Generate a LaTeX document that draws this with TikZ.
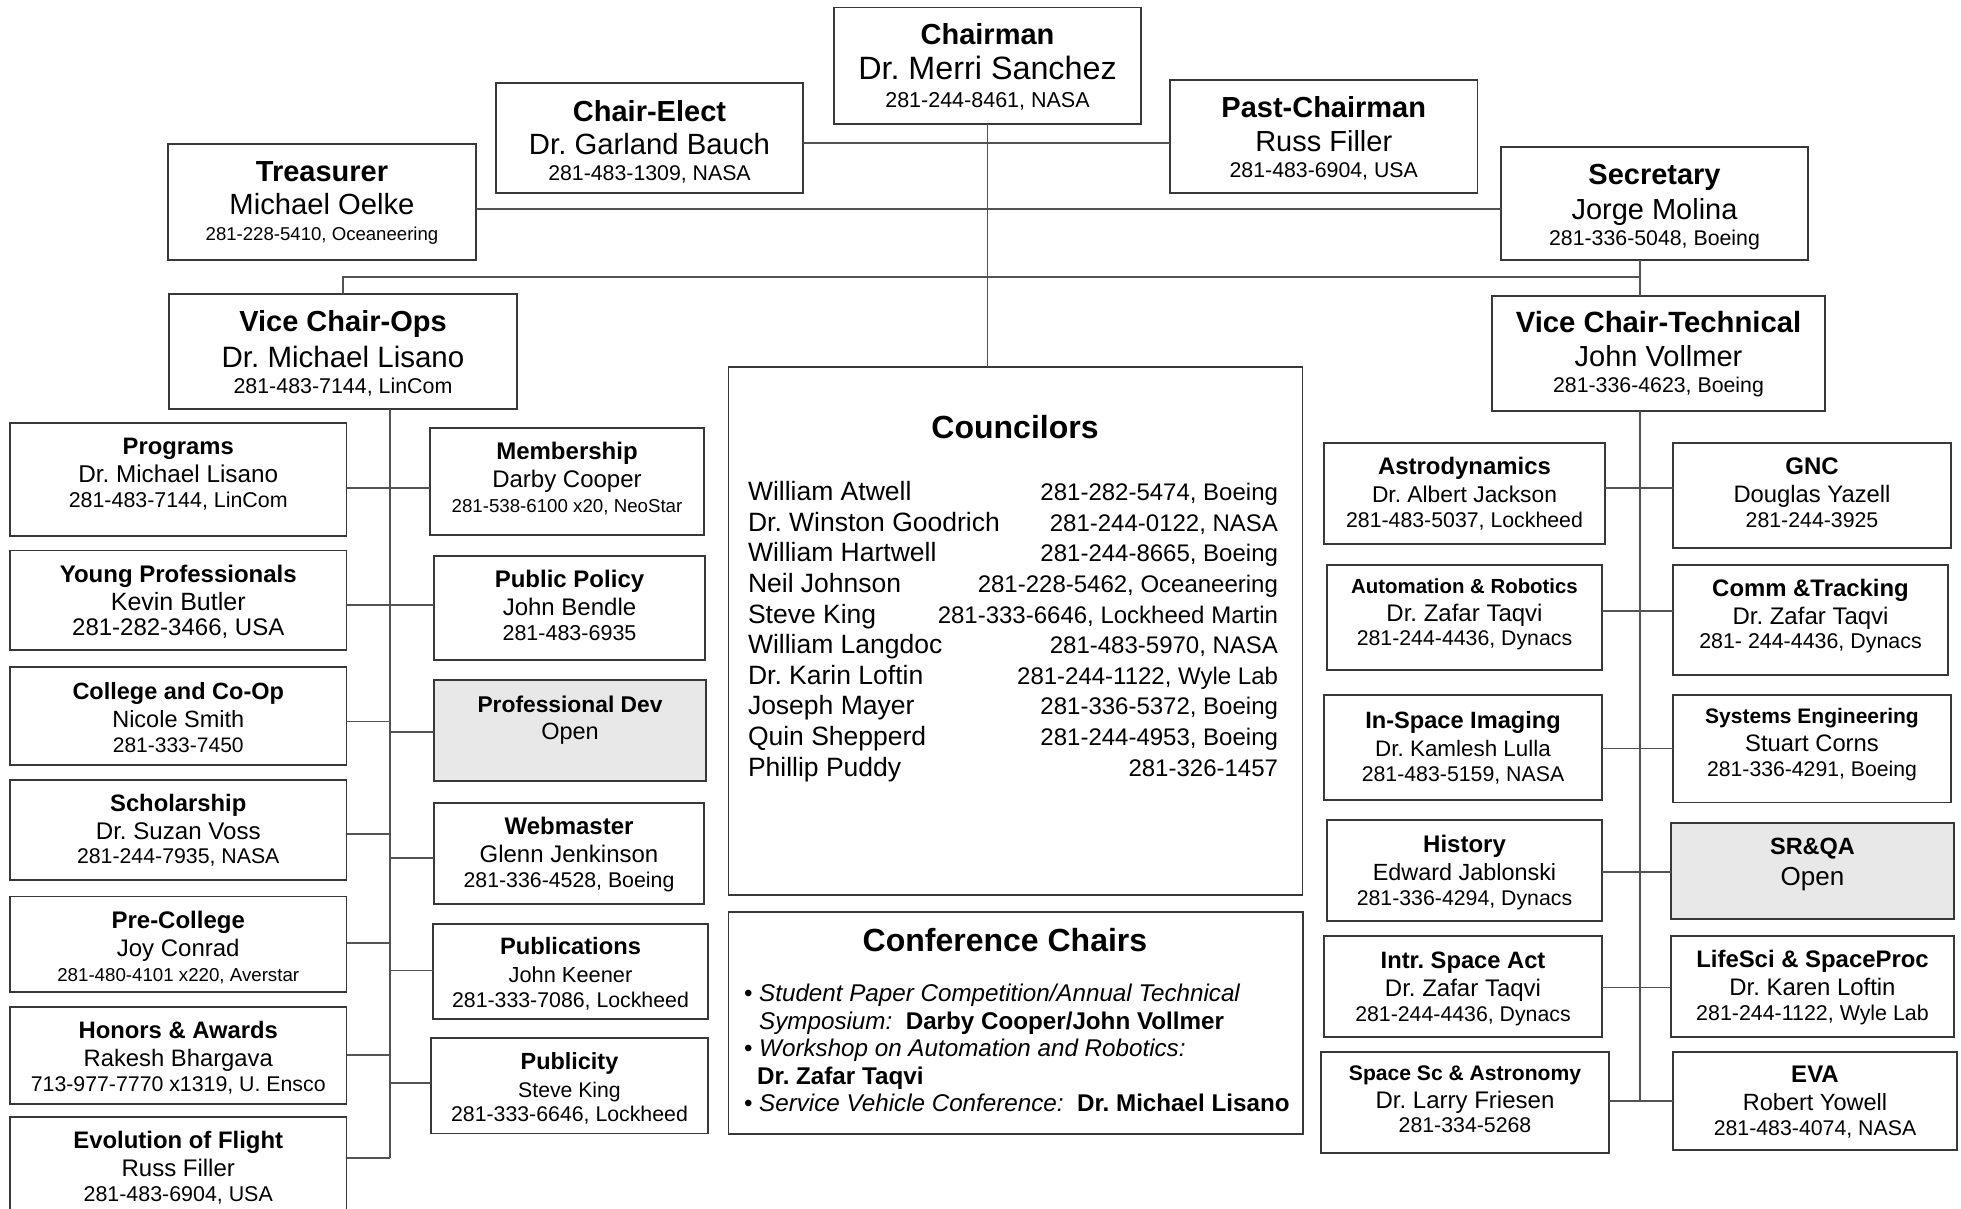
\documentclass[tikz,border=0pt]{standalone}
\usepackage{fontspec}
\setmainfont{Liberation Sans}
\newcommand\BS{24.5}
\newcommand\OT[2]{{\bfseries\fontsize{#1}{\BS}\selectfont\rule{0pt}{25pt}#2}}
\newcommand\ON[2]{{\fontsize{#1}{\BS}\selectfont #2}}
\newcommand\CN[2]{\makebox[530pt]{\rlap{\fontsize{26.5}{30.6}\selectfont #1}\hfill #2}}
\newcommand\CB[1]{{\bfseries\fontsize{24.2}{25}\selectfont #1}}
\newcommand\orgbox[8][]{%
  \node[obx,#1,minimum width={(#5-#3)*1pt},minimum height={(#6-#4)*1pt}] (#2) at ({(#3+#5)/2},{(#4+#6)/2}) {};
  \node[otx,anchor=north] (#2-t) at ({(#3+#5)/2},{#7-25}) {#8};}
\begin{document}
\frenchspacing
\begin{tikzpicture}[x=1pt,y=-1pt,
  obx/.style={rectangle,draw=black!78,line width=1.8pt,fill=white,inner sep=0pt,outer sep=0pt},
  opn/.style={fill=black!9},
  otx/.style={inner sep=0pt,outer sep=0pt,align=center,font=\fontsize{21}{\BS}\selectfont},
  conn/.style={draw=black!68,line width=1.4pt}]
\path[fill=white,use as bounding box] (0,0) rectangle (1961,1209);

% ---------- top level ----------
\renewcommand\BS{26}
\orgbox{chair}{834}{7.5}{1141}{124}{44.4}{\OT{29}{Chairman}\\[9.5pt]\ON{32.3}{Dr. Merri Sanchez}\\[1.5pt]\ON{21.5}{281-244-8461, NASA}}
\orgbox{celect}{496}{83}{803}{193}{121.4}{\OT{29}{Chair-Elect}\\[7.5pt]\ON{29.3}{Dr. Garland Bauch}\\\ON{21.3}{281-483-1309, NASA}}
\orgbox{past}{1170}{80}{1477.5}{193}{117.9}{\OT{29}{Past-Chairman}\\[7.5pt]\ON{29}{Russ Filler}\\\ON{21.3}{281-483-6904, USA}}
\orgbox{treas}{168}{144}{476}{260}{181.4}{\OT{29}{Treasurer}\\[7.5pt]\ON{29.2}{Michael Oelke}\\\ON{18.6}{281-228-5410, Oceaneering}}
\orgbox{sec}{1501}{147}{1808}{260}{184.4}{\OT{29}{Secretary}\\[7.5pt]\ON{29}{Jorge Molina}\\\ON{21.3}{281-336-5048, Boeing}}
\orgbox{vco}{169}{294}{517}{409}{331.4}{\OT{29}{Vice Chair-Ops}\\[7.5pt]\ON{29.5}{Dr. Michael Lisano}\\\ON{21.4}{281-483-7144, LinCom}}
\orgbox{vct}{1492}{296}{1825}{411}{332.9}{\OT{29.3}{Vice Chair-Technical}\\[7.5pt]\ON{29}{John Vollmer}\\\ON{21.3}{281-336-4623, Boeing}}

% ---------- councilors / conference ----------
\node[obx,minimum width=574pt,minimum height=528pt] (couns) at (1015.5,631) {};
\node[inner sep=0pt,font=\bfseries\fontsize{32}{38}\selectfont] (couns-t) at (1015,426.7) {Councilors};
\node[inner sep=0pt,font=\fontsize{24}{30.6}\selectfont] (couns-l) at (1013,632.3) {%
\begin{tabular}{@{}l@{}}
\CN{William Atwell}{281-282-5474, Boeing}\\
\CN{Dr. Winston Goodrich}{281-244-0122, NASA}\\
\CN{William Hartwell}{281-244-8665, Boeing}\\
\CN{Neil Johnson}{281-228-5462, Oceaneering}\\
\CN{Steve King}{281-333-6646, Lockheed Martin}\\
\CN{William Langdoc}{281-483-5970, NASA}\\
\CN{Dr. Karin Loftin}{281-244-1122, Wyle Lab}\\
\CN{Joseph Mayer}{281-336-5372, Boeing}\\
\CN{Quin Shepperd}{281-244-4953, Boeing}\\
\CN{Phillip Puddy}{281-326-1457}
\end{tabular}};

\node[obx,minimum width=574.5pt,minimum height=222pt] (conf) at (1015.75,1023) {};
\node[inner sep=0pt,font=\bfseries\fontsize{32}{38}\selectfont] (conf-t) at (1005,940) {Conference Chairs};
\begin{scope}[every node/.style={inner sep=0pt,anchor=base west,font=\fontsize{24.2}{25}\selectfont}]
\node (cf1) at (744,1001.6) {\makebox[15pt][l]{•}\textit{Student Paper Competition/Annual Technical}};
\node (cf2) at (744,1029.1) {\hspace*{15pt}\textit{Symposium:}\ \ \CB{Darby Cooper/John Vollmer}};
\node (cf3) at (744,1056.6) {\makebox[15pt][l]{•}\textit{Workshop on Automation and Robotics:}};
\node (cf4) at (744,1084.1) {\hspace*{13pt}\CB{Dr. Zafar Taqvi}};
\node (cf5) at (744,1111.6) {\makebox[15pt][l]{•}\textit{Service Vehicle Conference:}\ \ \CB{Dr. Michael Lisano}};
\end{scope}

% ---------- Vice Chair-Ops branch ----------
\renewcommand\BS{24.5}
\orgbox{prog}{10}{423}{346.5}{536}{454.6}{\OT{23.8}{Programs}\\[3.5pt]\ON{24.3}{Dr. Michael Lisano}\\\ON{21.4}{281-483-7144, LinCom}}
\orgbox{yprof}{10}{550.5}{346.5}{650}{582.6}{\OT{24}{Young Professionals}\\[3.5pt]\ON{25}{Kevin Butler}\\\ON{24}{281-282-3466, USA}}
\orgbox{college}{10}{667}{346.5}{765}{699.5}{\OT{23.5}{College and Co-Op}\\[3.5pt]\ON{23.5}{Nicole Smith}\\\ON{21}{281-333-7450}}
\orgbox{schol}{10}{780}{346.5}{880}{811}{\OT{23.8}{Scholarship}\\[3.5pt]\ON{24.1}{Dr. Suzan Voss}\\\ON{21.3}{281-244-7935, NASA}}
\orgbox{precol}{10}{896.5}{346.5}{992}{928.6}{\OT{24}{Pre-College}\\[3.5pt]\ON{24}{Joy Conrad}\\\ON{18.7}{281-480-4101 x220, Averstar}}
\orgbox{honors}{10}{1007}{346.5}{1104}{1038.5}{\OT{23.8}{Honors \& Awards}\\[3.5pt]\ON{23.8}{Rakesh Bhargava}\\\ON{21.3}{713-977-7770 x1319, U. Ensco}}
\orgbox{evol}{10}{1117}{346.5}{1216}{1148.6}{\OT{23.9}{Evolution of Flight}\\[3.5pt]\ON{24}{Russ Filler}\\\ON{21.4}{281-483-6904, USA}}

\orgbox{memb}{430}{428}{704}{535}{459.6}{\OT{24}{Membership}\\[3.5pt]\ON{24}{Darby Cooper}\\\ON{18.7}{281-538-6100 x20, NeoStar}}
\orgbox{ppol}{434}{556}{705}{660}{587.6}{\OT{24}{Public Policy}\\[3.5pt]\ON{24}{John Bendle}\\\ON{21.5}{281-483-6935}}
\orgbox[opn]{profdev}{434}{680}{706}{781}{712.2}{\OT{22.8}{Professional Dev}\\[2.5pt]\ON{23.5}{Open}}
\orgbox{webm}{434}{803}{704}{904}{834.6}{\OT{24}{Webmaster}\\[3.5pt]\ON{24}{Glenn Jenkinson}\\\ON{21.3}{281-336-4528, Boeing}}
\orgbox{publ}{433}{924}{708}{1019}{954.5}{\OT{23.7}{Publications}\\[3.5pt]\ON{21.8}{John Keener}\\\ON{21.3}{281-333-7086, Lockheed}}
\orgbox{pubcity}{431}{1038}{708}{1133.5}{1069.4}{\OT{23.4}{Publicity}\\[3.5pt]\ON{21.2}{Steve King}\\\ON{21.3}{281-333-6646, Lockheed}}

% ---------- Vice Chair-Technical branch ----------
\orgbox{astro}{1324}{443}{1605}{544}{474.6}{\OT{23.9}{Astrodynamics}\\[3.5pt]\ON{22.8}{Dr. Albert Jackson}\\\ON{21.3}{281-483-5037, Lockheed}}
\orgbox{autom}{1327}{565}{1602}{670}{593.3}{\OT{20.4}{Automation \& Robotics}\\[3.5pt]\ON{24}{Dr. Zafar Taqvi}\\\ON{21.3}{281-244-4436, Dynacs}}
\orgbox{insp}{1324}{695}{1602}{800}{728.5}{\OT{23.6}{In-Space Imaging}\\[3.5pt]\ON{22.4}{Dr. Kamlesh Lulla}\\\ON{21.3}{281-483-5159, NASA}}
\orgbox{hist}{1327}{820}{1602}{921}{852.5}{\OT{24}{History}\\[3.5pt]\ON{23.4}{Edward Jablonski}\\\ON{21.3}{281-336-4294, Dynacs}}
\orgbox{intr}{1324}{936}{1602}{1037}{968.5}{\OT{23.7}{Intr. Space Act}\\[3.5pt]\ON{24}{Dr. Zafar Taqvi}\\\ON{21.3}{281-244-4436, Dynacs}}
\orgbox{spsc}{1321}{1052}{1609}{1153}{1080}{\OT{21.1}{Space Sc \& Astronomy}\\[3.5pt]\ON{24}{Dr. Larry Friesen}\\\ON{21.3}{281-334-5268}}

\orgbox{gnc}{1673}{443}{1951}{548}{474.6}{\OT{24}{GNC}\\[3.5pt]\ON{23.8}{Douglas Yazell}\\\ON{21.3}{281-244-3925}}
\orgbox{comm}{1673}{565}{1948}{675}{596.1}{\OT{23.9}{Comm \&Tracking}\\[3.5pt]\ON{24}{Dr. Zafar Taqvi}\\\ON{21.4}{281- 244-4436, Dynacs}}
\orgbox{syseng}{1673}{695}{1951}{802.5}{723.5}{\OT{21}{Systems Engineering}\\[3.5pt]\ON{23.8}{Stuart Corns}\\\ON{21.2}{281-336-4291, Boeing}}
\orgbox[opn]{srqa}{1671}{823}{1954}{919}{854.4}{\OT{23.5}{SR\&QA}\\[6.5pt]\ON{26}{Open}}
\orgbox{lifesci}{1671}{936}{1954}{1037}{967.5}{\OT{23.9}{LifeSci \& SpaceProc}\\[3.5pt]\ON{23.9}{Dr. Karen Loftin}\\\ON{21.4}{281-244-1122, Wyle Lab}}
\orgbox{eva}{1673}{1052}{1957}{1150}{1082.6}{\OT{24}{EVA}\\[3.5pt]\ON{23.5}{Robert Yowell}\\\ON{21.3}{281-483-4074, NASA}}

% ---------- connectors ----------
\coordinate (ls) at (390,0);
\coordinate (rs) at (1640,277);
\coordinate (hA) at (0,143);
\coordinate (hB) at (0,209);
\draw[conn] (chair.south) -- (chair.south |- couns.north);
\draw[conn] (celect.east |- hA) -- (past.west |- hA);
\draw[conn] (treas.east |- hB) -- (sec.west |- hB);
\draw[conn] (vco.north) |- (rs);
\draw[conn] (rs |- sec.south) -- (rs |- vct.north);
\draw[conn] (rs |- vct.south) -- (rs |- 0,1101);
\draw[conn] (ls |- vco.south) -- (ls |- 0,1158);

\draw[conn] (prog.east |- 0,488) -- (memb.west |- 0,488);
\draw[conn] (yprof.east |- 0,605) -- (ppol.west |- 0,605);
\draw[conn] (college.east |- 0,721.5) -- (ls |- 0,721.5);
\draw[conn] (ls |- 0,732) -- (profdev.west |- 0,732);
\draw[conn] (schol.east |- 0,834) -- (ls |- 0,834);
\draw[conn] (ls |- 0,858) -- (webm.west |- 0,858);
\draw[conn] (precol.east |- 0,943) -- (ls |- 0,943);
\draw[conn] (ls |- 0,970.5) -- (publ.west |- 0,970.5);
\draw[conn] (honors.east |- 0,1055) -- (ls |- 0,1055);
\draw[conn] (ls |- 0,1083) -- (pubcity.west |- 0,1083);
\draw[conn] (evol.east |- 0,1158) -- (ls |- 0,1158);

\draw[conn] (astro.east |- 0,488) -- (gnc.west |- 0,488);
\draw[conn] (autom.east |- 0,611) -- (comm.west |- 0,611);
\draw[conn] (insp.east |- 0,748.5) -- (syseng.west |- 0,748.5);
\draw[conn] (hist.east |- 0,872) -- (srqa.west |- 0,872);
\draw[conn] (intr.east |- 0,987.5) -- (lifesci.west |- 0,987.5);
\draw[conn] (spsc.east |- 0,1101) -- (eva.west |- 0,1101);
\end{tikzpicture}
\end{document}
